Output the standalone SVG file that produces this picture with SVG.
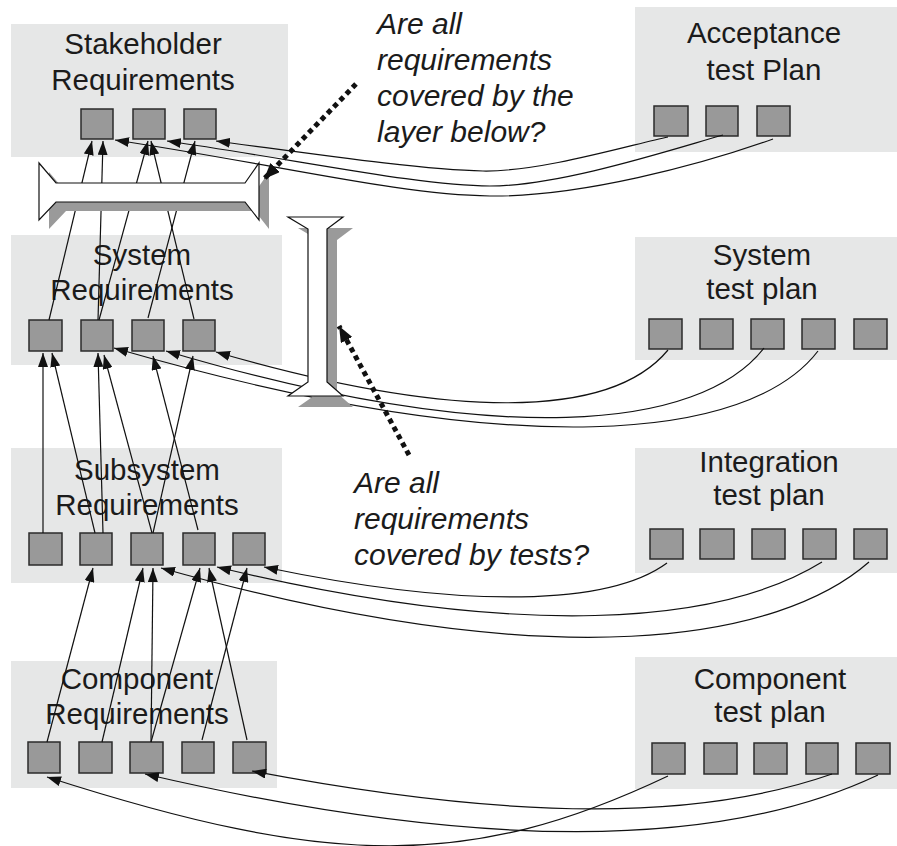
<svg xmlns="http://www.w3.org/2000/svg" width="897" height="846" viewBox="0 0 897 846">
  <style>
    .box { fill: #e6e7e7; }
    .req { fill: #999999; stroke: #2b2b2b; stroke-width: 1.5; }
    .lbl { font-family: "Liberation Sans", Arial, Helvetica, sans-serif; font-size: 29.5px; fill: #1b1b1b; text-anchor: middle; }
    .q { font-family: "Liberation Sans", Arial, Helvetica, sans-serif; font-size: 30px; font-style: italic; fill: #1b1b1b; }
    .link { fill: none; stroke: #111; stroke-width: 1.2; marker-end: url(#ah); }
    .beam { fill: #ffffff; stroke: #111; stroke-width: 1.2; stroke-linejoin: miter; }
    .shadow { fill: #9a9a9a; }
    .dots { fill: none; stroke: #111; stroke-width: 5; stroke-dasharray: 5 4; marker-end: url(#bigah); }
  </style>
  <defs>
    <marker id="ah" viewBox="0 0 14 10" refX="14" refY="5" markerWidth="14" markerHeight="10" markerUnits="userSpaceOnUse" orient="auto">
      <path d="M0,0 L14,5 L0,10 z" fill="#111"/>
    </marker>
    <marker id="bigah" viewBox="0 0 16 13" refX="16" refY="6.5" markerWidth="16" markerHeight="13" markerUnits="userSpaceOnUse" orient="auto">
      <path d="M0,0 L16,6.5 L0,13 z" fill="#111"/>
    </marker>
  </defs>

  <!-- requirement layers (left) -->
  <g id="stakeholder-requirements">
    <rect class="box" x="11" y="24" width="277" height="133"/>
    <text class="lbl" x="143" y="54">Stakeholder</text>
    <text class="lbl" x="143" y="90">Requirements</text>
    <rect class="req" x="81" y="109" width="32" height="30"/>
    <rect class="req" x="133" y="109" width="32" height="30"/>
    <rect class="req" x="184" y="109" width="32" height="30"/>
  </g>
  <g id="system-requirements">
    <rect class="box" x="11" y="235" width="271" height="130"/>
    <text class="lbl" x="142" y="265">System</text>
    <text class="lbl" x="142" y="300">Requirements</text>
    <rect class="req" x="29" y="320" width="33" height="31"/>
    <rect class="req" x="81" y="320" width="32" height="31"/>
    <rect class="req" x="132" y="320" width="32" height="31"/>
    <rect class="req" x="183" y="320" width="32" height="31"/>
  </g>
  <g id="subsystem-requirements">
    <rect class="box" x="11" y="448" width="271" height="135"/>
    <text class="lbl" x="147" y="480">Subsystem</text>
    <text class="lbl" x="147" y="515">Requirements</text>
    <rect class="req" x="29" y="533" width="33" height="32"/>
    <rect class="req" x="80" y="533" width="32" height="32"/>
    <rect class="req" x="131" y="533" width="32" height="32"/>
    <rect class="req" x="183" y="533" width="32" height="32"/>
    <rect class="req" x="233" y="533" width="32" height="32"/>
  </g>
  <g id="component-requirements">
    <rect class="box" x="11" y="661" width="266" height="127"/>
    <text class="lbl" x="137" y="689">Component</text>
    <text class="lbl" x="137" y="724">Requirements</text>
    <rect class="req" x="28" y="742" width="32" height="31"/>
    <rect class="req" x="79" y="742" width="33" height="31"/>
    <rect class="req" x="130" y="742" width="33" height="31"/>
    <rect class="req" x="182" y="742" width="32" height="31"/>
    <rect class="req" x="233" y="742" width="33" height="31"/>
  </g>

  <!-- test plans (right) -->
  <g id="acceptance-test-plan">
    <rect class="box" x="635" y="7" width="262" height="145"/>
    <text class="lbl" x="764" y="43">Acceptance</text>
    <text class="lbl" x="764" y="80">test Plan</text>
    <rect class="req" x="654" y="106" width="34" height="30"/>
    <rect class="req" x="706" y="106" width="32" height="30"/>
    <rect class="req" x="757" y="106" width="33" height="30"/>
  </g>
  <g id="system-test-plan">
    <rect class="box" x="635" y="237" width="262" height="123"/>
    <text class="lbl" x="762" y="265">System</text>
    <text class="lbl" x="762" y="299">test plan</text>
    <rect class="req" x="649" y="319" width="33" height="30"/>
    <rect class="req" x="700" y="319" width="33" height="30"/>
    <rect class="req" x="751" y="319" width="33" height="30"/>
    <rect class="req" x="802" y="319" width="33" height="30"/>
    <rect class="req" x="854" y="319" width="33" height="30"/>
  </g>
  <g id="integration-test-plan">
    <rect class="box" x="635" y="448" width="262" height="125"/>
    <text class="lbl" x="769" y="472">Integration</text>
    <text class="lbl" x="769" y="505">test plan</text>
    <rect class="req" x="650" y="529" width="33" height="30"/>
    <rect class="req" x="700" y="529" width="34" height="30"/>
    <rect class="req" x="752" y="529" width="33" height="30"/>
    <rect class="req" x="803" y="529" width="33" height="30"/>
    <rect class="req" x="854" y="529" width="33" height="30"/>
  </g>
  <g id="component-test-plan">
    <rect class="box" x="635" y="657" width="262" height="132"/>
    <text class="lbl" x="770" y="689">Component</text>
    <text class="lbl" x="770" y="722">test plan</text>
    <rect class="req" x="652" y="743" width="33" height="31"/>
    <rect class="req" x="704" y="743" width="33" height="31"/>
    <rect class="req" x="754" y="743" width="33" height="31"/>
    <rect class="req" x="806" y="743" width="32" height="31"/>
    <rect class="req" x="856" y="743" width="34" height="31"/>
  </g>

  <!-- traceability links -->
  <g id="connectors">
    <!-- system to stakeholder -->
    <path class="link" d="M49,320 L92,141"/>
    <path class="link" d="M98,320 L103,141"/>
    <path class="link" d="M99,320 L148,141"/>
    <path class="link" d="M148,318 L195,141"/>
    <path class="link" d="M194,319 L151,141"/>
    <!-- subsystem to system -->
    <path class="link" d="M43,533 L43,353"/>
    <path class="link" d="M95,533 L52,353"/>
    <path class="link" d="M103,533 L98,353"/>
    <path class="link" d="M152,533 L104,355"/>
    <path class="link" d="M153,533 L193,356"/>
    <path class="link" d="M198,530 L153,356"/>
    <!-- component to subsystem -->
    <path class="link" d="M47,742 L93,568"/>
    <path class="link" d="M102,742 L143,568"/>
    <path class="link" d="M151,742 L153,568"/>
    <path class="link" d="M151,742 L200,568"/>
    <path class="link" d="M202,740 L247,568"/>
    <path class="link" d="M247,740 L209,568"/>
    <!-- acceptance tests to stakeholder requirements -->
    <path class="link" d="M668,137 C630,145 540,172 483,171 C420,170 300,152 216,141"/>
    <path class="link" d="M723,135 C670,150 560,186 490,186 C420,186 300,160 167,141"/>
    <path class="link" d="M773,139 C700,165 580,197 490,196 C400,195 280,165 115,140"/>
    <!-- system tests to system requirements -->
    <path class="link" d="M668,350 C610,420 450,420 216,352"/>
    <path class="link" d="M764,348 C700,430 500,450 166,351"/>
    <path class="link" d="M818,351 C750,440 520,465 114,348"/>
    <!-- integration tests to subsystem requirements -->
    <path class="link" d="M667,563 C610,605 470,610 264,567"/>
    <path class="link" d="M822,562 C720,625 520,640 217,567"/>
    <path class="link" d="M869,562 C780,640 560,680 161,568"/>
    <!-- component tests to component requirements -->
    <path class="link" d="M668,776 C470,870 330,868 47,777"/>
    <path class="link" d="M832,774 C700,820 520,822 252,771"/>
    <path class="link" d="M878,775 C720,850 480,852 145,774"/>
  </g>

  <!-- coverage bars -->
  <g id="layer-coverage-bar">
    <polygon class="shadow" transform="translate(10,9)" points="39,163 56,183 245,183 259,163 259,220 245,202 56,202 39,220"/>
    <polygon class="beam" points="39,163 56,183 245,183 259,163 259,220 245,202 56,202 39,220"/>
  </g>
  <g id="test-coverage-bar">
    <polygon class="shadow" transform="translate(10,11)" points="288,217 343,217 327,229 327,382 343,396 288,396 308,382 308,229"/>
    <polygon class="beam" points="288,217 343,217 327,229 327,382 343,396 288,396 308,382 308,229"/>
  </g>

  <!-- questions -->
  <g id="question-layers">
    <path class="dots" d="M356,84 L264,179"/>
    <text class="q" x="377" y="34">Are all</text>
    <text class="q" x="377" y="70">requirements</text>
    <text class="q" x="377" y="106">covered by the</text>
    <text class="q" x="377" y="142">layer below?</text>
  </g>
  <g id="question-tests">
    <path class="dots" d="M409,455 L339,326"/>
    <text class="q" x="354" y="493">Are all</text>
    <text class="q" x="354" y="529">requirements</text>
    <text class="q" x="354" y="565">covered by tests?</text>
  </g>
</svg>
